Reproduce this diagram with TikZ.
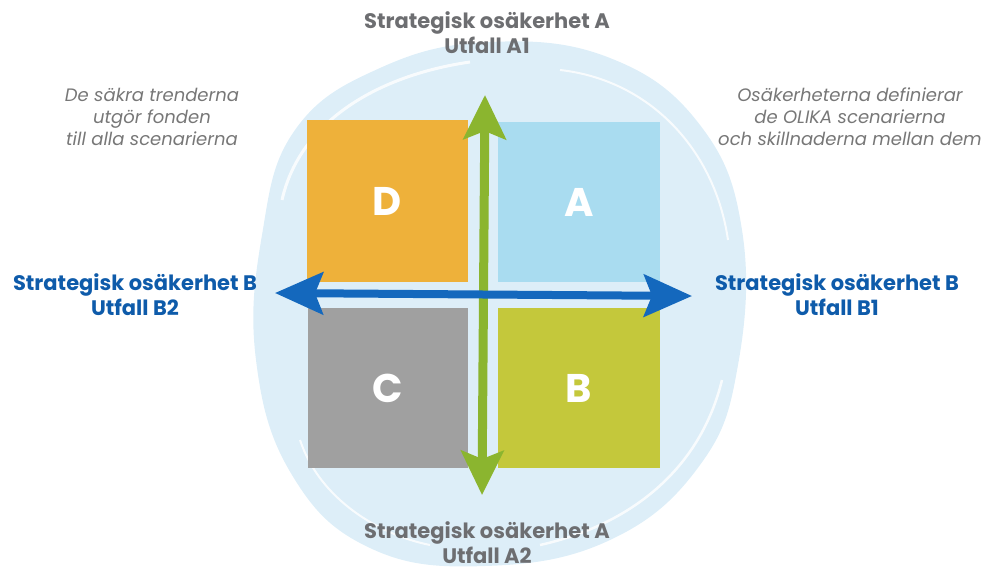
\documentclass[tikz,border=0pt]{standalone}
\usepackage{fontspec}
\setmainfont{Poppins}
\usetikzlibrary{arrows.meta}
\definecolor{blobblue}{HTML}{DDEEF8}
\definecolor{sqD}{HTML}{EEB13A}
\definecolor{sqA}{HTML}{A9DCF0}
\definecolor{sqC}{HTML}{A0A0A0}
\definecolor{sqB}{HTML}{C4C83B}
\definecolor{axisgreen}{HTML}{8BB52F}
\definecolor{axisblue}{HTML}{1468BD}
\definecolor{headgray}{HTML}{6D6E71}
\definecolor{headblue}{HTML}{0E5BAA}
\definecolor{notegray}{HTML}{777777}

\begin{document}
\begin{tikzpicture}[x=1pt, y=-1pt,
  square/.style={draw=none, inner sep=0pt, text=white, font=\bfseries\fontsize{40}{42}\selectfont},
  axislabel/.style={align=center, inner sep=0pt, font=\bfseries\fontsize{21}{25}\selectfont},
  note/.style={align=center, inner sep=0pt, text=notegray, font=\itshape\fontsize{18}{22}\selectfont}]
\useasboundingbox (0,0) rectangle (985,571);
\fill[blobblue] plot[smooth cycle, tension=0.7] coordinates {(262,235) (295,130) (380,68) (490,42) (610,58) (700,125) (742,230) (738,365) (700,465) (610,540) (485,566) (370,548) (292,475) (256,360)};
\draw[white, line width=3pt, opacity=0.8] (282,200) .. controls (300,120) and (380,75) .. (470,62);
\draw[white, line width=2pt, opacity=0.8] (560,70) .. controls (650,80) and (715,150) .. (728,240);
\draw[white, line width=2.5pt, opacity=0.8] (722,380) .. controls (700,470) and (630,525) .. (540,545);
\draw[white, line width=2pt, opacity=0.8] (300,440) .. controls (320,500) and (380,535) .. (430,545);
\node[square, fill=sqD, minimum width=161pt, minimum height=162pt] (D) at (387.5,201) {D};
\node[square, fill=sqA, minimum width=162pt, minimum height=160pt] (A) at (579,202) {A};
\node[square, fill=sqC, minimum width=160pt, minimum height=160pt] (C) at (388,388) {C};
\node[square, fill=sqB, minimum width=162pt, minimum height=160pt] (B) at (579,388) {B};
\coordinate (A1) at (485,95);
\coordinate (A2) at (482,495);
\coordinate (B2) at (275,293);
\coordinate (B1) at (692,296);
\path[draw=axisgreen, line width=9pt, {Stealth[width=42pt,length=44pt,inset=8pt]}-{Stealth[width=42pt,length=44pt,inset=8pt]}] (A2) -- (A1);
\path[draw=axisblue, line width=8pt, {Stealth[width=42pt,length=48pt,inset=8pt]}-{Stealth[width=42pt,length=48pt,inset=8pt]}] (B2) -- (B1);
\node[axislabel, text=headgray] (topA) at (487,33) {Strategisk osäkerhet A\\Utfall A1};
\node[axislabel, text=headgray] (botA) at (487,543) {Strategisk osäkerhet A\\Utfall A2};
\node[axislabel, text=headblue] (leftB) at (135,295) {Strategisk osäkerhet B\\Utfall B2};
\node[axislabel, text=headblue] (rightB) at (837,295) {Strategisk osäkerhet B\\Utfall B1};
\node[note] (trends) at (152,117) {De säkra trenderna\\utgör fonden\\till alla scenarierna};
\node[note] (uncert) at (850,117) {Osäkerheterna definierar\\de OLIKA scenarierna\\och skillnaderna mellan dem};
\end{tikzpicture}
\end{document}
